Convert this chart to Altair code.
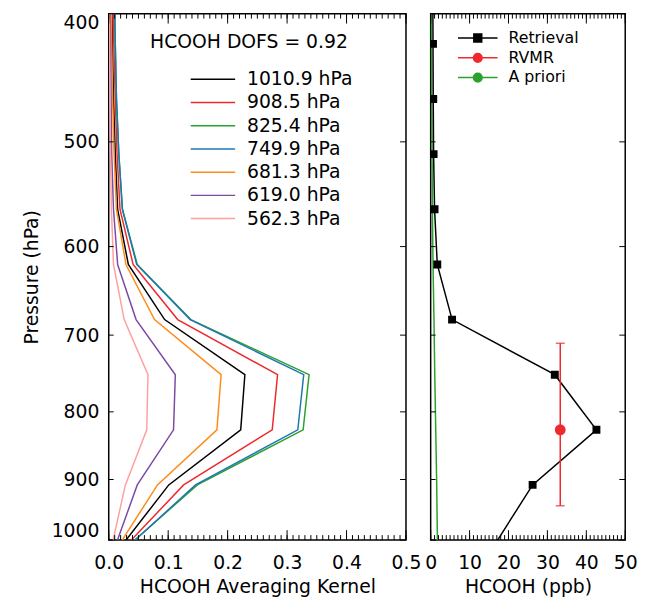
import altair as alt
import pandas as pd

# ---------------- data ----------------
PRESSURE = [1010.9, 908.5, 825.4, 749.9, 681.3, 619.0, 562.3, 510.8, 464.1, 421.6, 383.0]

AK_LABELS = ["1010.9 hPa", "908.5 hPa", "825.4 hPa", "749.9 hPa",
             "681.3 hPa", "619.0 hPa", "562.3 hPa"]
AK_COLORS = ["#000000", "#ee2a2e", "#2ca02c", "#1f77b4", "#ff8c1a", "#7b4ba3", "#ff9fa0"]

AK_1010 = [0.021, 0.101, 0.222, 0.229, 0.094, 0.033, 0.015, 0.011, 0.008, 0.0062, 0.005]
AK_908 = [0.028, 0.126, 0.275, 0.284, 0.116, 0.041, 0.019, 0.014, 0.011, 0.0085, 0.007]
AK_825 = [0.032, 0.149, 0.327, 0.337, 0.138, 0.048, 0.023, 0.017, 0.013, 0.011, 0.0095]
AK_750 = [0.033, 0.146, 0.318, 0.328, 0.137, 0.047, 0.023, 0.017, 0.013, 0.011, 0.0095]
AK_681 = [0.016, 0.082, 0.182, 0.189, 0.077, 0.029, 0.013, 0.009, 0.0065, 0.005, 0.004]
AK_619 = [0.011, 0.048, 0.109, 0.112, 0.046, 0.015, 0.008, 0.005, 0.004, 0.003, 0.002]
AK_562 = [0.005, 0.028, 0.064, 0.066, 0.026, 0.008, 0.0045, 0.003, 0.002, 0.0015, 0.001]
AK_VALUES = [AK_1010, AK_908, AK_825, AK_750, AK_681, AK_619, AK_562]

RETRIEVAL = [16.2, 26.2, 42.6, 31.9, 5.5, 1.7, 1.0, 0.75, 0.66, 0.6, 0.55]
APRIORI = [1.75, 1.55, 1.3, 1.05, 0.85, 0.6, 0.45, 0.35, 0.25, 0.18, 0.12]

RVMR_P = [825.4]
RVMR_VAL = [33.3]
RVMR_LO = [710.0]
RVMR_HI = [942.0]

DOFS_TEXT = ["HCOOH DOFS = 0.92"]

RIGHT_CATS = ["Retrieval", "RVMR", "A priori"]
RIGHT_COLORS = ["#000000", "#ee2a2e", "#2ca02c"]
RIGHT_SHAPES = [
    "M-1,0H1M-0.2,-0.2H0.2V0.2H-0.2Z",
    "M-1,0H1M0.22,0A0.22,0.22,0,1,1,-0.22,0A0.22,0.22,0,1,1,0.22,0Z",
    "M-1,0H1M0.22,0A0.22,0.22,0,1,1,-0.22,0A0.22,0.22,0,1,1,0.22,0Z",
]

X_TICKS_L = [0.0, 0.1, 0.2, 0.3, 0.4, 0.5]
X_MINOR_L = [round(i * 0.01, 2) for i in range(51)]
X_TICKS_R = [0, 10, 20, 30, 40, 50]
X_MINOR_R = list(range(51))
Y_TICKS = [400, 500, 600, 700, 800, 900, 1000]

# ---------------- tables ----------------
ak_rows = []
for lab, vals in zip(AK_LABELS, AK_VALUES):
    for p, v in zip(PRESSURE, vals):
        ak_rows.append({"level": lab, "p": p, "ak": v})
ak_df = pd.DataFrame(ak_rows)

prof_df = pd.DataFrame({"p": PRESSURE, "ret": RETRIEVAL, "apr": APRIORI})
ret_pts = prof_df[(prof_df.p >= 400) & (prof_df.p <= 1000)]
rvmr_df = pd.DataFrame({"p": RVMR_P, "val": RVMR_VAL, "lo": RVMR_LO, "hi": RVMR_HI})
leg_df = pd.DataFrame({"cat": RIGHT_CATS, "val": [10, 10, 10], "p": [300.0, 300.0, 300.0]})
txt_df = pd.DataFrame({"t": DOFS_TEXT})
ytick_df = pd.DataFrame({"tp": Y_TICKS})

# ---------------- styling ----------------
FONT = "DejaVu Sans"
FS = 19
W_L, W_R, H = 301, 197, 533
TICK_COLOR = "#000000"

common = dict(domain=False, grid=False, ticks=False,
              labelColor="black", titleColor="black", labelFont=FONT, titleFont=FONT,
              labelFontSize=FS, titleFontSize=FS, titleFontWeight="normal")

yscale = alt.Scale(type="log", domain=[400, 1000], reverse=True, nice=False)
xscale_l = alt.Scale(domain=[0, 0.5], nice=False, zero=False)
xscale_r = alt.Scale(domain=[0, 50], nice=False, zero=False)


def tick_layers(xscale, majors, minors, width):
    """Inward ticks on all four sides, placed through the panel's scales."""
    maj = pd.DataFrame({"tx": majors})
    mnr = pd.DataFrame({"tx": minors})
    layers = []
    for df, ln in ((maj, 10), (mnr, 5)):
        base = alt.Chart(df).mark_rule(color=TICK_COLOR, strokeWidth=1)
        layers.append(base.encode(x=alt.X("tx:Q", scale=xscale, axis=None),
                                  y=alt.value(H), y2=alt.value(H - ln)))
        layers.append(base.encode(x=alt.X("tx:Q", scale=xscale, axis=None),
                                  y=alt.value(0), y2=alt.value(ln)))
    ybase = alt.Chart(ytick_df).mark_rule(color=TICK_COLOR, strokeWidth=1)
    layers.append(ybase.encode(y=alt.Y("tp:Q", scale=yscale, axis=None),
                               x=alt.value(0), x2=alt.value(5)))
    layers.append(ybase.encode(y=alt.Y("tp:Q", scale=yscale, axis=None),
                               x=alt.value(width), x2=alt.value(width - 6)))
    return layers


# ---------------- left panel ----------------
left_lines = alt.Chart(ak_df).mark_line(strokeWidth=1.5, clip=True).encode(
    x=alt.X("ak:Q", scale=xscale_l,
            axis=alt.Axis(orient="bottom", values=X_TICKS_L, format=".1f",
                          labelPadding=14, labelOverlap=False, labelFlush=False,
                          title="HCOOH Averaging Kernel", titlePadding=5, **common)),
    y=alt.Y("p:Q", scale=yscale,
            axis=alt.Axis(orient="left", values=Y_TICKS, format="d",
                          labelPadding=10, labelFlush=True, labelOverlap=False,
                          title="Pressure (hPa)", titlePadding=10, **common)),
    color=alt.Color("level:N", scale=alt.Scale(domain=AK_LABELS, range=AK_COLORS),
                    sort=AK_LABELS,
                    legend=alt.Legend(orient="none", legendX=82, legendY=56.5, title=None,
                                      symbolType="stroke", symbolSize=2025,
                                      symbolStrokeWidth=1.5, clipHeight=20, rowPadding=3.5,
                                      labelFont=FONT, labelFontSize=FS, labelColor="black",
                                      labelOffset=11, padding=0)),
    order=alt.Order("p:Q"),
)

dofs = alt.Chart(txt_df).mark_text(font=FONT, fontSize=FS, align="center",
                                   baseline="middle", color="black").encode(
    x=alt.value(142), y=alt.value(29), text="t:N")

left = alt.layer(
    left_lines, dofs, *tick_layers(xscale_l, X_TICKS_L, X_MINOR_L, W_L)
).resolve_axis(x="independent", y="independent").properties(width=W_L, height=H)

# ---------------- right panel ----------------
apr_line = alt.Chart(prof_df).mark_line(color="#2ca02c", strokeWidth=1.5, clip=True).encode(
    x=alt.X("apr:Q", scale=xscale_r,
            axis=alt.Axis(orient="bottom", values=X_TICKS_R, format="d",
                          labelPadding=14, labelOverlap=False, labelFlush=False,
                          title="HCOOH (ppb)", titlePadding=5, **common)),
    y=alt.Y("p:Q", scale=yscale, axis=None),
    order=alt.Order("p:Q"),
)

ret_line = alt.Chart(prof_df).mark_line(color="black", strokeWidth=1.5, clip=True).encode(
    x=alt.X("ret:Q", scale=xscale_r, axis=None),
    y=alt.Y("p:Q", scale=yscale, axis=None),
    order=alt.Order("p:Q"),
)
ret_pt = alt.Chart(ret_pts).mark_point(shape="square", filled=True, size=64, color="black",
                                       opacity=1, clip=True).encode(
    x=alt.X("ret:Q", scale=xscale_r, axis=None),
    y=alt.Y("p:Q", scale=yscale, axis=None),
)
err_rule = alt.Chart(rvmr_df).mark_rule(color="#ee2a2e", strokeWidth=1.5).encode(
    x=alt.X("val:Q", scale=xscale_r, axis=None),
    y=alt.Y("lo:Q", scale=yscale, axis=None),
    y2="hi:Q",
)
cap_lo = alt.Chart(rvmr_df).mark_tick(orient="horizontal", size=9, thickness=1.5,
                                      color="#ee2a2e").encode(
    x=alt.X("val:Q", scale=xscale_r, axis=None),
    y=alt.Y("lo:Q", scale=yscale, axis=None),
)
cap_hi = alt.Chart(rvmr_df).mark_tick(orient="horizontal", size=9, thickness=1.5,
                                      color="#ee2a2e").encode(
    x=alt.X("val:Q", scale=xscale_r, axis=None),
    y=alt.Y("hi:Q", scale=yscale, axis=None),
)
rvmr_pt = alt.Chart(rvmr_df).mark_point(shape="circle", filled=True, size=121,
                                        color="#ee2a2e", opacity=1).encode(
    x=alt.X("val:Q", scale=xscale_r, axis=None),
    y=alt.Y("p:Q", scale=yscale, axis=None),
)

leg_kw = dict(orient="none", legendX=352.7, legendY=16.7, title=None, symbolSize=1600,
              symbolStrokeWidth=1.5, clipHeight=16, rowPadding=4, labelFont=FONT,
              labelFontSize=16, labelColor="black", labelOffset=10, padding=0)
leg_layer = alt.Chart(leg_df).mark_point(filled=True, clip=True, opacity=1,
                                         strokeWidth=1.5).encode(
    x=alt.X("val:Q", scale=xscale_r, axis=None),
    y=alt.Y("p:Q", scale=yscale, axis=None),
    fill=alt.Fill("cat:N", scale=alt.Scale(domain=RIGHT_CATS, range=RIGHT_COLORS),
                  sort=RIGHT_CATS, legend=alt.Legend(**leg_kw)),
    stroke=alt.Stroke("cat:N", scale=alt.Scale(domain=RIGHT_CATS, range=RIGHT_COLORS),
                      sort=RIGHT_CATS, legend=alt.Legend(**leg_kw)),
    shape=alt.Shape("cat:N", scale=alt.Scale(domain=RIGHT_CATS, range=RIGHT_SHAPES),
                    sort=RIGHT_CATS, legend=alt.Legend(**leg_kw)),
)

right = alt.layer(
    apr_line, ret_line, ret_pt, err_rule, cap_lo, cap_hi, rvmr_pt, leg_layer,
    *tick_layers(xscale_r, X_TICKS_R, X_MINOR_R, W_R)
).resolve_axis(x="independent", y="independent").properties(width=W_R, height=H)

chart = alt.hconcat(left, right, spacing=25, bounds="flush").configure(
    padding={"left": 13, "top": 0, "right": 5, "bottom": 0},
    background="white",
).configure_view(stroke="black", strokeWidth=1.5)

chart.save("out.html", embed_options={"renderer": "svg", "actions": False})
